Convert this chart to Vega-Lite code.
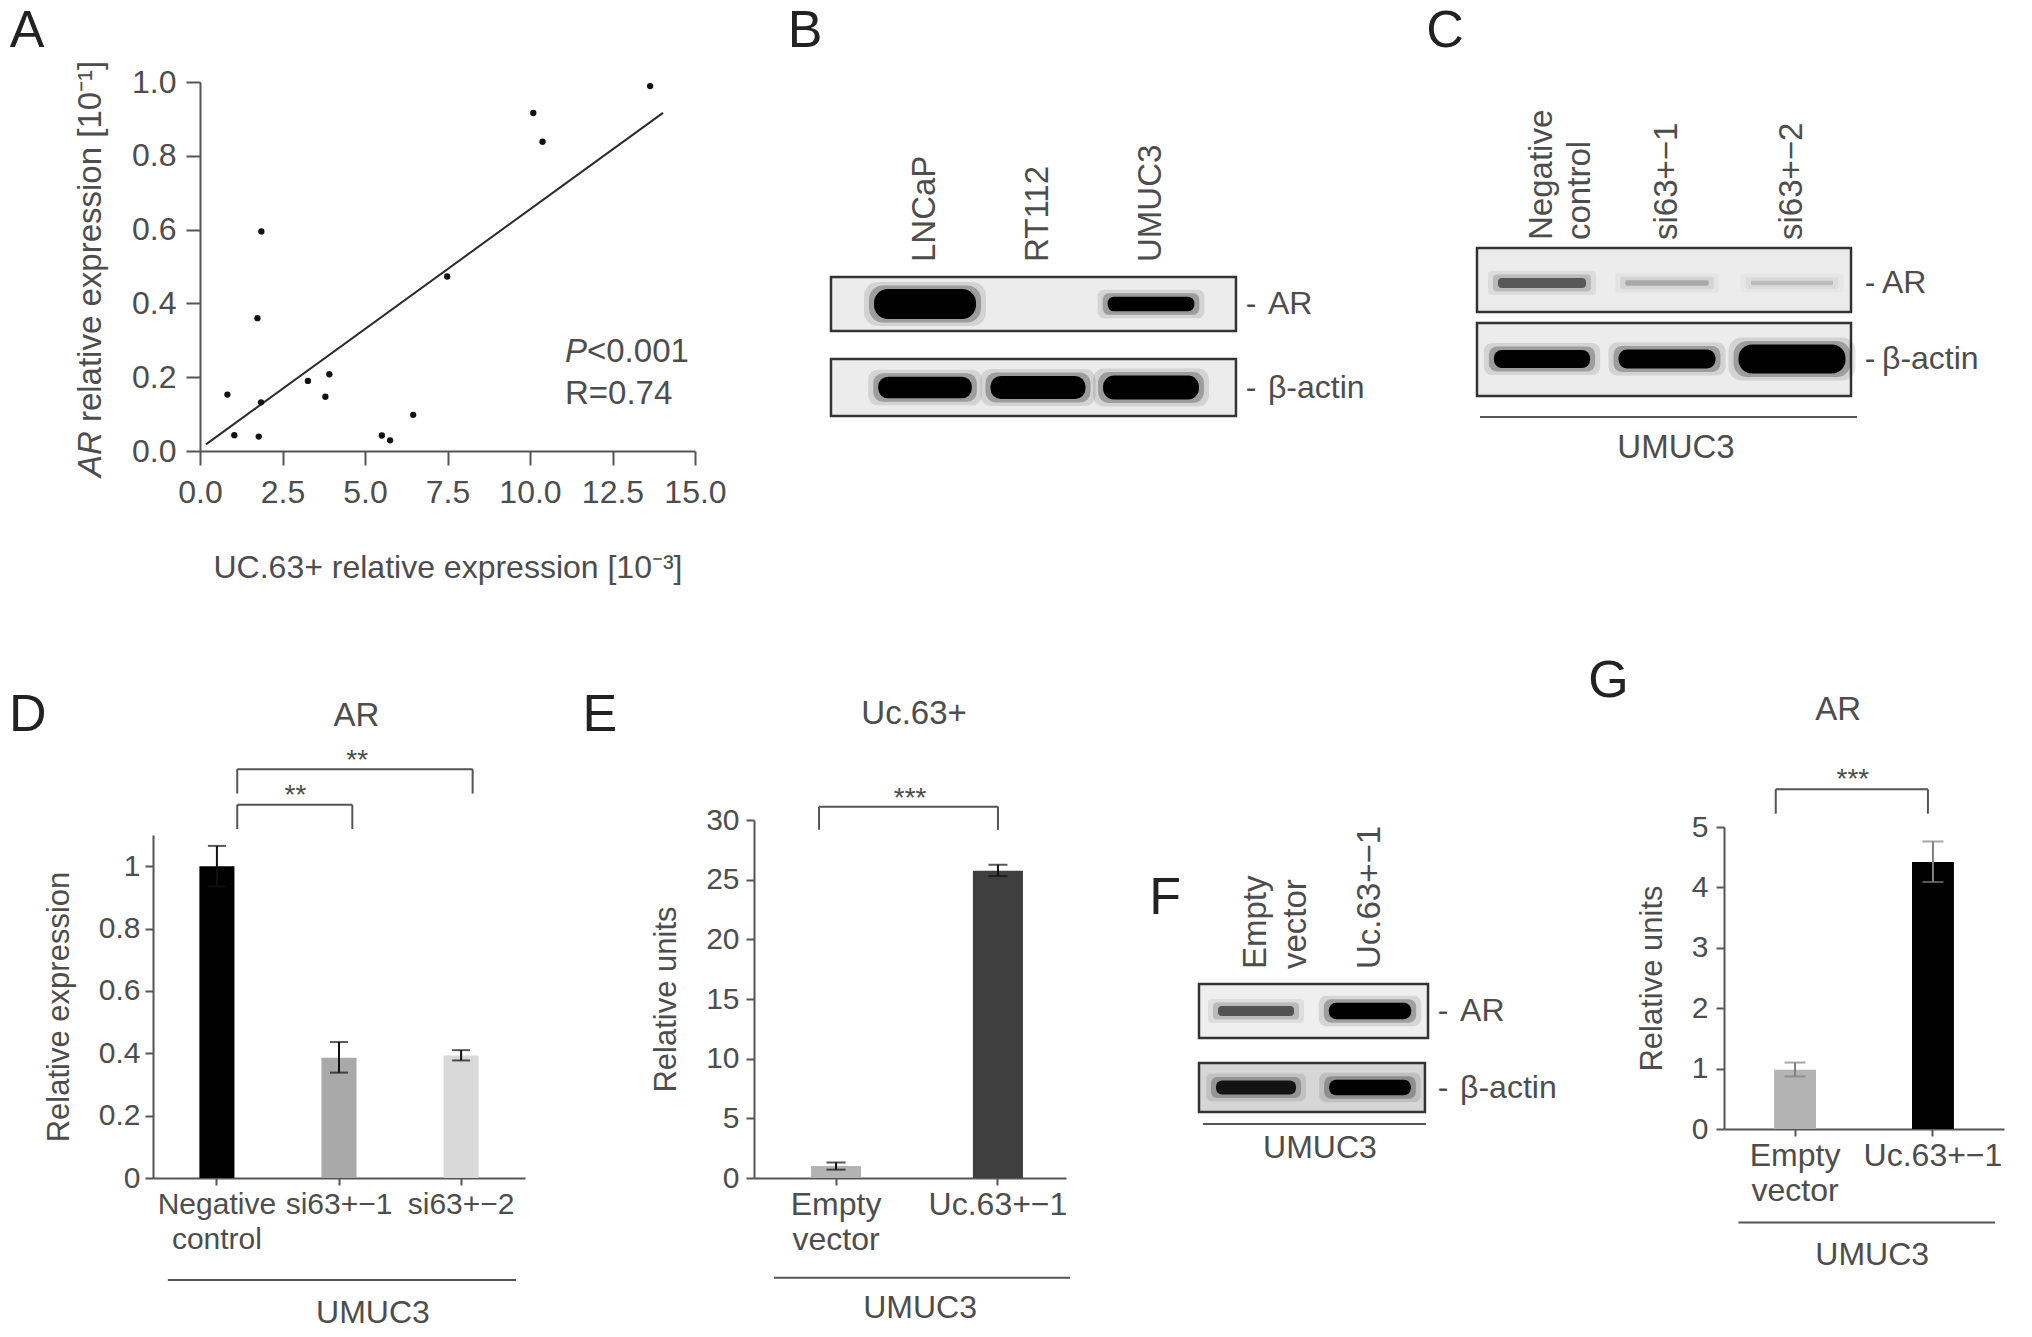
{
"$schema": "https://vega.github.io/schema/vega-lite/v6.json",
"width": 2032,
"height": 1337,
"autosize": {"type": "none"},
"padding": 0,
"background": "#ffffff",
"config": {
  "view": {"stroke": null},
  "font": "Liberation Sans",
  "axis": {"domainColor": "#555555", "domainWidth": 2, "tickColor": "#555555", "tickWidth": 2, "labelColor": "#4d4d4d", "titleColor": "#4d4d4d", "labelFont": "Liberation Sans", "titleFont": "Liberation Sans", "labelFontSize": 32, "titleFontSize": 32, "titleFontWeight": "normal", "grid": false, "labelOverlap": false, "labelFlush": false, "labelBound": false},
  "text": {"font": "Liberation Sans", "fontSize": 32, "color": "#4d4d4d"}
},
"datasets": {
  "one": [{"k": 1}],
  "scatter": [
    {"uc63": 0.83, "ar": 0.153}, {"uc63": 1.04, "ar": 0.043}, {"uc63": 1.78, "ar": 0.039}, {"uc63": 1.85, "ar": 0.132},
    {"uc63": 1.74, "ar": 0.36}, {"uc63": 1.86, "ar": 0.595}, {"uc63": 3.27, "ar": 0.19}, {"uc63": 3.80, "ar": 0.147},
    {"uc63": 3.92, "ar": 0.208}, {"uc63": 5.51, "ar": 0.042}, {"uc63": 5.76, "ar": 0.029}, {"uc63": 6.46, "ar": 0.098},
    {"uc63": 7.49, "ar": 0.473}, {"uc63": 10.10, "ar": 0.916}, {"uc63": 10.38, "ar": 0.838}, {"uc63": 13.64, "ar": 0.989}
  ],
  "rows": [{"row": 1, "protein": "AR"}, {"row": 2, "protein": "β-actin"}],
  "blotB": [
    {"lane": 1, "sample": "LNCaP", "row": 1, "protein": "AR", "signal": 1.0},
    {"lane": 2, "sample": "RT112", "row": 1, "protein": "AR", "signal": 0.0},
    {"lane": 3, "sample": "UMUC3", "row": 1, "protein": "AR", "signal": 0.45},
    {"lane": 1, "sample": "LNCaP", "row": 2, "protein": "β-actin", "signal": 0.7},
    {"lane": 2, "sample": "RT112", "row": 2, "protein": "β-actin", "signal": 0.75},
    {"lane": 3, "sample": "UMUC3", "row": 2, "protein": "β-actin", "signal": 0.78}
  ],
  "lanesB": [{"lane": 1, "sample": "LNCaP"}, {"lane": 2, "sample": "RT112"}, {"lane": 3, "sample": "UMUC3"}],
  "blotC": [
    {"lane": 1, "sample": "Negative control", "row": 1, "protein": "AR", "signal": 0.3},
    {"lane": 2, "sample": "si63+−1", "row": 1, "protein": "AR", "signal": 0.13},
    {"lane": 3, "sample": "si63+−2", "row": 1, "protein": "AR", "signal": 0.09},
    {"lane": 1, "sample": "Negative control", "row": 2, "protein": "β-actin", "signal": 0.6},
    {"lane": 2, "sample": "si63+−1", "row": 2, "protein": "β-actin", "signal": 0.63},
    {"lane": 3, "sample": "si63+−2", "row": 2, "protein": "β-actin", "signal": 1.0}
  ],
  "lanesC": [{"lane": 1, "sample": "Negative control"}, {"lane": 2, "sample": "si63+−1"}, {"lane": 3, "sample": "si63+−2"}],
  "blotF": [
    {"lane": 1, "sample": "Empty vector", "row": 1, "protein": "AR", "signal": 0.5},
    {"lane": 2, "sample": "Uc.63+−1", "row": 1, "protein": "AR", "signal": 0.9},
    {"lane": 1, "sample": "Empty vector", "row": 2, "protein": "β-actin", "signal": 0.75},
    {"lane": 2, "sample": "Uc.63+−1", "row": 2, "protein": "β-actin", "signal": 0.85}
  ],
  "lanesF": [{"lane": 1, "sample": "Empty vector"}, {"lane": 2, "sample": "Uc.63+−1"}],
  "barD": [
    {"group": "Negative control", "mean": 1.0, "lower": 0.935, "upper": 1.065},
    {"group": "si63+−1", "mean": 0.386, "lower": 0.338, "upper": 0.436},
    {"group": "si63+−2", "mean": 0.393, "lower": 0.377, "upper": 0.41}
  ],
  "barE": [
    {"group": "Empty vector", "mean": 1.0, "lower": 0.7, "upper": 1.3},
    {"group": "Uc.63+−1", "mean": 25.75, "lower": 25.3, "upper": 26.25}
  ],
  "barG": [
    {"group": "Empty vector", "mean": 0.98, "lower": 0.87, "upper": 1.1},
    {"group": "Uc.63+−1", "mean": 4.42, "lower": 4.09, "upper": 4.76}
  ]
},
"layer": [
  {
    "layer": [
      {"data": {"name": "scatter"},
       "transform": [{"regression": "ar", "on": "uc63", "extent": [0.18, 14.03]}],
       "mark": {"type": "line", "color": "#2b2b2b", "strokeWidth": 2},
       "encoding": {
         "x": {"field": "uc63", "type": "quantitative", "scale": {"domain": [0, 15], "range": [200, 695], "nice": false, "zero": false},
               "axis": {"orient": "bottom", "offset": -886, "values": [0, 2.5, 5, 7.5, 10, 12.5, 15], "format": ".1f", "tickSize": 14, "labelPadding": 12, "title": "UC.63+ relative expression [10⁻³]", "titlePadding": 44}},
         "y": {"field": "ar", "type": "quantitative", "scale": {"domain": [0, 1], "range": [451, 82], "nice": false, "zero": false},
               "axis": {"orient": "left", "offset": -200, "values": [0, 0.2, 0.4, 0.6, 0.8, 1], "format": ".1f", "tickSize": 14, "labelPadding": 10, "title": null}}
       }},
      {"data": {"name": "scatter"},
       "mark": {"type": "point", "filled": true, "size": 40, "color": "#111111", "opacity": 1},
       "encoding": {"x": {"field": "uc63", "type": "quantitative"}, "y": {"field": "ar", "type": "quantitative"}}},
      {"data": {"name": "one"},
       "mark": {"type": "text", "text": "A", "fontSize": 52, "color": "#222222", "align": "center", "baseline": "middle"},
       "encoding": {"x": {"datum": -5.24, "type": "quantitative"}, "y": {"datum": 1.138, "type": "quantitative"}}},
      {"data": {"name": "one"},
       "mark": {"type": "text", "text": "AR", "fontStyle": "italic", "angle": 270, "align": "right", "baseline": "middle", "fontSize": 33},
       "encoding": {"x": {"datum": -3.3, "type": "quantitative"}, "y": {"datum": 0.054, "type": "quantitative"}}},
      {"data": {"name": "one"},
       "mark": {"type": "text", "text": "relative expression [10⁻¹]", "angle": 270, "align": "left", "baseline": "middle", "fontSize": 33, "dx": 9},
       "encoding": {"x": {"datum": -3.3, "type": "quantitative"}, "y": {"datum": 0.054, "type": "quantitative"}}},
      {"data": {"name": "one"},
       "mark": {"type": "text", "text": "P", "fontStyle": "italic", "align": "left", "baseline": "middle", "fontSize": 33},
       "encoding": {"x": {"datum": 11.06, "type": "quantitative"}, "y": {"datum": 0.268, "type": "quantitative"}}},
      {"data": {"name": "one"},
       "mark": {"type": "text", "text": "<0.001", "align": "left", "baseline": "middle", "fontSize": 33, "dx": 22},
       "encoding": {"x": {"datum": 11.06, "type": "quantitative"}, "y": {"datum": 0.268, "type": "quantitative"}}},
      {"data": {"name": "one"},
       "mark": {"type": "text", "text": "R=0.74", "align": "left", "baseline": "middle", "fontSize": 33},
       "encoding": {"x": {"datum": 11.06, "type": "quantitative"}, "y": {"datum": 0.154, "type": "quantitative"}}}
    ]
  },
  {
    "layer": [
      {"data": {"name": "one"}, "mark": {"type": "rect", "fill": "#ececec", "stroke": "#333333", "strokeWidth": 2.5},
       "encoding": {"x": {"datum": 0.168, "type": "quantitative", "axis": null}, "x2": {"datum": 3.752}, "y": {"datum": 0.677, "type": "quantitative", "axis": null}, "y2": {"datum": 1.323}}},
      {"data": {"name": "one"}, "mark": {"type": "rect", "fill": "#ececec", "stroke": "#333333", "strokeWidth": 2.5},
       "encoding": {"x": {"datum": 0.168, "type": "quantitative", "axis": null}, "x2": {"datum": 3.752}, "y": {"datum": 1.659, "type": "quantitative", "axis": null}, "y2": {"datum": 2.341}}},
      {"data": {"name": "blotB"}, "mark": {"type": "tick", "orient": "horizontal", "size": 94, "thickness": 16, "opacity": 0.1, "strokeJoin": "round"},
       "encoding": {
         "x": {"field": "lane", "type": "quantitative", "scale": {"domain": [1, 3], "range": [925, 1151], "nice": false, "zero": false}, "axis": null},
         "y": {"field": "row", "type": "quantitative", "scale": {"domain": [1, 2], "range": [304, 387.5], "nice": false, "zero": false}, "axis": null},
         "fill": {"field": "signal", "type": "quantitative", "scale": {"domain": [0, 0.4], "range": ["#ebebeb", "#000000"], "clamp": true}, "legend": null},
         "stroke": {"field": "signal", "type": "quantitative", "scale": {"domain": [0, 0.4], "range": ["#ebebeb", "#000000"], "clamp": true}, "legend": null},
         "strokeWidth": {"field": "signal", "type": "quantitative", "scale": {"domain": [0, 1], "range": [0, 28]}, "legend": null}}},
      {"data": {"name": "blotB"}, "mark": {"type": "tick", "orient": "horizontal", "size": 84, "thickness": 9, "opacity": 0.25, "strokeJoin": "round"},
       "encoding": {
         "x": {"field": "lane", "type": "quantitative", "axis": null}, "y": {"field": "row", "type": "quantitative", "axis": null},
         "fill": {"field": "signal", "type": "quantitative", "legend": null}, "stroke": {"field": "signal", "type": "quantitative", "legend": null},
         "strokeWidth": {"field": "signal", "type": "quantitative", "legend": null}}},
      {"data": {"name": "blotB"}, "mark": {"type": "tick", "orient": "horizontal", "size": 74, "thickness": 2, "opacity": 1, "strokeJoin": "round"},
       "encoding": {
         "x": {"field": "lane", "type": "quantitative", "axis": null}, "y": {"field": "row", "type": "quantitative", "axis": null},
         "fill": {"field": "signal", "type": "quantitative", "legend": null}, "stroke": {"field": "signal", "type": "quantitative", "legend": null},
         "strokeWidth": {"field": "signal", "type": "quantitative", "legend": null}}},
      {"data": {"name": "lanesB"}, "mark": {"type": "text", "angle": 270, "align": "left", "baseline": "middle", "fontSize": 33},
       "encoding": {"x": {"field": "lane", "type": "quantitative", "axis": null}, "y": {"datum": 0.497, "type": "quantitative", "axis": null}, "text": {"field": "sample"}}},
      {"data": {"name": "rows"}, "mark": {"type": "text", "text": "-", "align": "center", "baseline": "middle", "fontSize": 32},
       "encoding": {"x": {"datum": 3.885, "type": "quantitative", "axis": null}, "y": {"field": "row", "type": "quantitative", "axis": null}}},
      {"data": {"name": "rows"}, "mark": {"type": "text", "align": "left", "baseline": "middle", "fontSize": 32},
       "encoding": {"x": {"datum": 4.035, "type": "quantitative", "axis": null}, "y": {"field": "row", "type": "quantitative", "axis": null}, "text": {"field": "protein"}}},
      {"data": {"name": "one"}, "mark": {"type": "text", "text": "B", "fontSize": 52, "color": "#222222", "align": "center", "baseline": "middle"},
       "encoding": {"x": {"datum": -0.062, "type": "quantitative", "axis": null}, "y": {"datum": -2.27, "type": "quantitative", "axis": null}}}
    ]
  },
  {
    "layer": [
      {"data": {"name": "one"}, "mark": {"type": "rect", "fill": "#ececec", "stroke": "#333333", "strokeWidth": 2.5},
       "encoding": {"x": {"datum": 0.48, "type": "quantitative", "axis": null}, "x2": {"datum": 3.472}, "y": {"datum": 0.539, "type": "quantitative", "axis": null}, "y2": {"datum": 1.382}}},
      {"data": {"name": "one"}, "mark": {"type": "rect", "fill": "#ececec", "stroke": "#333333", "strokeWidth": 2.5},
       "encoding": {"x": {"datum": 0.48, "type": "quantitative", "axis": null}, "x2": {"datum": 3.472}, "y": {"datum": 1.526, "type": "quantitative", "axis": null}, "y2": {"datum": 2.487}}},
      {"data": {"name": "blotC"}, "mark": {"type": "tick", "orient": "horizontal", "size": 100, "thickness": 16, "opacity": 0.1, "strokeJoin": "round"},
       "encoding": {
         "x": {"field": "lane", "type": "quantitative", "scale": {"domain": [1, 3], "range": [1542, 1792], "nice": false, "zero": false}, "axis": null},
         "y": {"field": "row", "type": "quantitative", "scale": {"domain": [1, 2], "range": [283, 359], "nice": false, "zero": false}, "axis": null},
         "fill": {"field": "signal", "type": "quantitative", "scale": {"domain": [0, 0.5], "range": ["#ebebeb", "#000000"], "clamp": true}, "legend": null},
         "stroke": {"field": "signal", "type": "quantitative", "scale": {"domain": [0, 0.5], "range": ["#ebebeb", "#000000"], "clamp": true}, "legend": null},
         "strokeWidth": {"field": "signal", "type": "quantitative", "scale": {"domain": [0, 1], "range": [0, 27]}, "legend": null}}},
      {"data": {"name": "blotC"}, "mark": {"type": "tick", "orient": "horizontal", "size": 90, "thickness": 9, "opacity": 0.25, "strokeJoin": "round"},
       "encoding": {
         "x": {"field": "lane", "type": "quantitative", "axis": null}, "y": {"field": "row", "type": "quantitative", "axis": null},
         "fill": {"field": "signal", "type": "quantitative", "legend": null}, "stroke": {"field": "signal", "type": "quantitative", "legend": null},
         "strokeWidth": {"field": "signal", "type": "quantitative", "legend": null}}},
      {"data": {"name": "blotC"}, "mark": {"type": "tick", "orient": "horizontal", "size": 80, "thickness": 2, "opacity": 1, "strokeJoin": "round"},
       "encoding": {
         "x": {"field": "lane", "type": "quantitative", "axis": null}, "y": {"field": "row", "type": "quantitative", "axis": null},
         "fill": {"field": "signal", "type": "quantitative", "legend": null}, "stroke": {"field": "signal", "type": "quantitative", "legend": null},
         "strokeWidth": {"field": "signal", "type": "quantitative", "legend": null}}},
      {"data": {"name": "lanesC"}, "mark": {"type": "text", "angle": 270, "align": "left", "baseline": "middle", "fontSize": 33, "lineBreak": " ", "lineHeight": 38},
       "encoding": {"x": {"field": "lane", "type": "quantitative", "axis": null}, "y": {"datum": 0.434, "type": "quantitative", "axis": null}, "text": {"field": "sample"}}},
      {"data": {"name": "rows"}, "mark": {"type": "text", "text": "-", "align": "center", "baseline": "middle", "fontSize": 32},
       "encoding": {"x": {"datum": 3.624, "type": "quantitative", "axis": null}, "y": {"field": "row", "type": "quantitative", "axis": null}}},
      {"data": {"name": "rows"}, "mark": {"type": "text", "align": "left", "baseline": "middle", "fontSize": 32},
       "encoding": {"x": {"datum": 3.72, "type": "quantitative", "axis": null}, "y": {"field": "row", "type": "quantitative", "axis": null}, "text": {"field": "protein"}}},
      {"data": {"name": "one"}, "mark": {"type": "rule", "color": "#555555", "strokeWidth": 2},
       "encoding": {"x": {"datum": 0.504, "type": "quantitative", "axis": null}, "x2": {"datum": 3.52}, "y": {"datum": 2.763, "type": "quantitative", "axis": null}}},
      {"data": {"name": "one"}, "mark": {"type": "text", "text": "UMUC3", "align": "center", "baseline": "middle", "fontSize": 33},
       "encoding": {"x": {"datum": 2.072, "type": "quantitative", "axis": null}, "y": {"datum": 3.171, "type": "quantitative", "axis": null}}},
      {"data": {"name": "one"}, "mark": {"type": "text", "text": "C", "fontSize": 52, "color": "#222222", "align": "center", "baseline": "middle"},
       "encoding": {"x": {"datum": 0.224, "type": "quantitative", "axis": null}, "y": {"datum": -2.316, "type": "quantitative", "axis": null}}}
    ]
  },
  {
    "layer": [
      {"data": {"name": "barD"}, "mark": {"type": "bar"},
       "encoding": {
         "x": {"field": "group", "type": "nominal", "sort": null, "scale": {"type": "band", "range": [153, 525], "paddingInner": 0.713, "paddingOuter": 0.38},
               "axis": {"orient": "bottom", "offset": -159, "labelAngle": 0, "labelExpr": "split(datum.label, ' ')", "tickSize": 7, "labelPadding": 4, "labelLineHeight": 35, "labelBaseline": "top", "title": null, "bandPosition": 0.5, "labelFontSize": 30}},
         "y": {"field": "mean", "type": "quantitative", "scale": {"domain": [0, 1.1], "range": [1178, 835], "nice": false, "zero": true},
               "axis": {"orient": "left", "offset": -153, "values": [0, 0.2, 0.4, 0.6, 0.8, 1], "format": "~g", "tickSize": 8, "labelPadding": 5, "title": "Relative expression", "titlePadding": 23, "labelFontSize": 30, "titleFontSize": 31}},
         "fill": {"field": "group", "type": "nominal", "sort": null, "scale": {"range": ["#000000", "#a9a9a9", "#d9d9d9"]}, "legend": null}}},
      {"data": {"name": "barD"}, "mark": {"type": "rule", "color": "#111111", "strokeWidth": 2},
       "encoding": {"x": {"field": "group", "type": "nominal", "sort": null}, "y": {"field": "lower", "type": "quantitative"}, "y2": {"field": "upper"}}},
      {"data": {"name": "barD"}, "mark": {"type": "tick", "orient": "horizontal", "color": "#111111", "size": 18, "thickness": 2},
       "encoding": {"x": {"field": "group", "type": "nominal", "sort": null}, "y": {"field": "upper", "type": "quantitative"}}},
      {"data": {"name": "barD"}, "mark": {"type": "tick", "orient": "horizontal", "color": "#111111", "size": 18, "thickness": 2},
       "encoding": {"x": {"field": "group", "type": "nominal", "sort": null}, "y": {"field": "lower", "type": "quantitative"}}},
      {"data": {"name": "one"}, "mark": {"type": "rule", "color": "#555555", "strokeWidth": 2},
       "encoding": {"x": {"datum": "Negative control", "type": "nominal", "bandPosition": 1.08}, "x2": {"datum": "si63+−2", "bandPosition": 0.83}, "y": {"datum": 1.311, "type": "quantitative"}}},
      {"data": {"name": "one"}, "mark": {"type": "rule", "color": "#555555", "strokeWidth": 2},
       "encoding": {"x": {"datum": "Negative control", "type": "nominal", "bandPosition": 1.08}, "y": {"datum": 1.311, "type": "quantitative"}, "y2": {"datum": 1.233}}},
      {"data": {"name": "one"}, "mark": {"type": "rule", "color": "#555555", "strokeWidth": 2},
       "encoding": {"x": {"datum": "si63+−2", "type": "nominal", "bandPosition": 0.83}, "y": {"datum": 1.311, "type": "quantitative"}, "y2": {"datum": 1.233}}},
      {"data": {"name": "one"}, "mark": {"type": "rule", "color": "#555555", "strokeWidth": 2},
       "encoding": {"x": {"datum": "Negative control", "type": "nominal", "bandPosition": 1.08}, "x2": {"datum": "si63+−1", "bandPosition": 0.88}, "y": {"datum": 1.197, "type": "quantitative"}}},
      {"data": {"name": "one"}, "mark": {"type": "rule", "color": "#555555", "strokeWidth": 2},
       "encoding": {"x": {"datum": "Negative control", "type": "nominal", "bandPosition": 1.08}, "y": {"datum": 1.197, "type": "quantitative"}, "y2": {"datum": 1.119}}},
      {"data": {"name": "one"}, "mark": {"type": "rule", "color": "#555555", "strokeWidth": 2},
       "encoding": {"x": {"datum": "si63+−1", "type": "nominal", "bandPosition": 0.88}, "y": {"datum": 1.197, "type": "quantitative"}, "y2": {"datum": 1.119}}},
      {"data": {"name": "one"}, "mark": {"type": "text", "text": "**", "align": "center", "baseline": "middle", "fontSize": 28},
       "encoding": {"x": {"datum": "si63+−1", "type": "nominal", "bandPosition": 1.02}, "y": {"datum": 1.337, "type": "quantitative"}}},
      {"data": {"name": "one"}, "mark": {"type": "text", "text": "**", "align": "center", "baseline": "middle", "fontSize": 28},
       "encoding": {"x": {"datum": "Negative control", "type": "nominal", "bandPosition": 2.74}, "y": {"datum": 1.224, "type": "quantitative"}}},
      {"data": {"name": "one"}, "mark": {"type": "text", "text": "AR", "align": "center", "baseline": "middle", "fontSize": 33},
       "encoding": {"x": {"datum": "si63+−1", "type": "nominal", "bandPosition": 1.0}, "y": {"datum": 1.483, "type": "quantitative"}}},
      {"data": {"name": "one"}, "mark": {"type": "text", "text": "D", "fontSize": 52, "color": "#222222", "align": "center", "baseline": "middle"},
       "encoding": {"x": {"datum": "Negative control", "type": "nominal", "bandPosition": -4.9}, "y": {"datum": 1.484, "type": "quantitative"}}},
      {"data": {"name": "one"}, "mark": {"type": "rule", "color": "#555555", "strokeWidth": 2},
       "encoding": {"x": {"datum": "Negative control", "type": "nominal", "bandPosition": -0.9}, "x2": {"datum": "si63+−2", "bandPosition": 2.07}, "y": {"datum": -0.327, "type": "quantitative"}}},
      {"data": {"name": "one"}, "mark": {"type": "text", "text": "UMUC3", "align": "center", "baseline": "middle", "fontSize": 32},
       "encoding": {"x": {"datum": "si63+−1", "type": "nominal", "bandPosition": 1.47}, "y": {"datum": -0.433, "type": "quantitative"}}}
    ]
  },
  {
    "layer": [
      {"data": {"name": "barE"}, "mark": {"type": "bar"},
       "encoding": {
         "x": {"field": "group", "type": "nominal", "sort": null, "scale": {"type": "band", "range": [754, 1066], "paddingInner": 0.691, "paddingOuter": 0.309, "align": 0.57},
               "axis": {"orient": "bottom", "offset": -159, "labelAngle": 0, "labelExpr": "split(datum.label, ' ')", "tickSize": 7, "labelPadding": 4, "labelLineHeight": 35, "labelBaseline": "top", "title": null, "bandPosition": 0.5, "labelFontSize": 32}},
         "y": {"field": "mean", "type": "quantitative", "scale": {"domain": [0, 30], "range": [1178, 820], "nice": false, "zero": true},
               "axis": {"orient": "left", "offset": -754, "values": [0, 5, 10, 15, 20, 25, 30], "format": "~g", "tickSize": 8, "labelPadding": 7, "title": "Relative units", "titlePadding": 23, "labelFontSize": 30, "titleFontSize": 31}},
         "fill": {"field": "group", "type": "nominal", "sort": null, "scale": {"range": ["#b3b3b3", "#3f3f3f"]}, "legend": null}}},
      {"data": {"name": "barE"}, "mark": {"type": "rule", "color": "#111111", "strokeWidth": 2},
       "encoding": {"x": {"field": "group", "type": "nominal", "sort": null}, "y": {"field": "lower", "type": "quantitative"}, "y2": {"field": "upper"}}},
      {"data": {"name": "barE"}, "mark": {"type": "tick", "orient": "horizontal", "color": "#111111", "size": 19, "thickness": 2},
       "encoding": {"x": {"field": "group", "type": "nominal", "sort": null}, "y": {"field": "upper", "type": "quantitative"}}},
      {"data": {"name": "barE"}, "mark": {"type": "tick", "orient": "horizontal", "color": "#111111", "size": 19, "thickness": 2},
       "encoding": {"x": {"field": "group", "type": "nominal", "sort": null}, "y": {"field": "lower", "type": "quantitative"}}},
      {"data": {"name": "one"}, "mark": {"type": "rule", "color": "#555555", "strokeWidth": 2},
       "encoding": {"x": {"datum": "Empty vector", "type": "nominal", "bandPosition": 0.16}, "x2": {"datum": "Uc.63+−1", "bandPosition": 0.5}, "y": {"datum": 31.12, "type": "quantitative"}}},
      {"data": {"name": "one"}, "mark": {"type": "rule", "color": "#555555", "strokeWidth": 2},
       "encoding": {"x": {"datum": "Empty vector", "type": "nominal", "bandPosition": 0.16}, "y": {"datum": 31.12, "type": "quantitative"}, "y2": {"datum": 29.18}}},
      {"data": {"name": "one"}, "mark": {"type": "rule", "color": "#555555", "strokeWidth": 2},
       "encoding": {"x": {"datum": "Uc.63+−1", "type": "nominal", "bandPosition": 0.5}, "y": {"datum": 31.12, "type": "quantitative"}, "y2": {"datum": 29.18}}},
      {"data": {"name": "one"}, "mark": {"type": "text", "text": "***", "align": "center", "baseline": "middle", "fontSize": 28},
       "encoding": {"x": {"datum": "Empty vector", "type": "nominal", "bandPosition": 1.98}, "y": {"datum": 31.74, "type": "quantitative"}}},
      {"data": {"name": "one"}, "mark": {"type": "text", "text": "Uc.63+", "align": "center", "baseline": "middle", "fontSize": 33},
       "encoding": {"x": {"datum": "Empty vector", "type": "nominal", "bandPosition": 2.06}, "y": {"datum": 38.87, "type": "quantitative"}}},
      {"data": {"name": "one"}, "mark": {"type": "text", "text": "E", "fontSize": 52, "color": "#222222", "align": "center", "baseline": "middle"},
       "encoding": {"x": {"datum": "Empty vector", "type": "nominal", "bandPosition": -4.22}, "y": {"datum": 38.81, "type": "quantitative"}}},
      {"data": {"name": "one"}, "mark": {"type": "rule", "color": "#555555", "strokeWidth": 2},
       "encoding": {"x": {"datum": "Empty vector", "type": "nominal", "bandPosition": -0.74}, "x2": {"datum": "Uc.63+−1", "bandPosition": 1.94}, "y": {"datum": -8.35, "type": "quantitative"}}},
      {"data": {"name": "one"}, "mark": {"type": "text", "text": "UMUC3", "align": "center", "baseline": "middle", "fontSize": 32},
       "encoding": {"x": {"datum": "Empty vector", "type": "nominal", "bandPosition": 2.18}, "y": {"datum": -10.88, "type": "quantitative"}}}
    ]
  },
  {
    "layer": [
      {"data": {"name": "one"}, "mark": {"type": "rect", "fill": "#efefef", "stroke": "#333333", "strokeWidth": 2.5},
       "encoding": {"x": {"datum": 0.5, "type": "quantitative", "axis": null}, "x2": {"datum": 2.509}, "y": {"datum": 0.647, "type": "quantitative", "axis": null}, "y2": {"datum": 1.353}}},
      {"data": {"name": "one"}, "mark": {"type": "rect", "fill": "#d6d6d6", "stroke": "#333333", "strokeWidth": 2.5},
       "encoding": {"x": {"datum": 0.5, "type": "quantitative", "axis": null}, "x2": {"datum": 2.482}, "y": {"datum": 1.68, "type": "quantitative", "axis": null}, "y2": {"datum": 2.32}}},
      {"data": {"name": "blotF"}, "mark": {"type": "tick", "orient": "horizontal", "size": 88, "thickness": 16, "opacity": 0.1, "strokeJoin": "round"},
       "encoding": {
         "x": {"field": "lane", "type": "quantitative", "scale": {"domain": [1, 2], "range": [1256, 1370], "nice": false, "zero": false}, "axis": null},
         "y": {"field": "row", "type": "quantitative", "scale": {"domain": [1, 2], "range": [1011, 1087.5], "nice": false, "zero": false}, "axis": null},
         "fill": {"field": "signal", "type": "quantitative", "scale": {"domain": [0, 0.8], "range": ["#ebebeb", "#000000"], "clamp": true}, "legend": null},
         "stroke": {"field": "signal", "type": "quantitative", "scale": {"domain": [0, 0.8], "range": ["#ebebeb", "#000000"], "clamp": true}, "legend": null},
         "strokeWidth": {"field": "signal", "type": "quantitative", "scale": {"domain": [0, 1], "range": [0, 16]}, "legend": null}}},
      {"data": {"name": "blotF"}, "mark": {"type": "tick", "orient": "horizontal", "size": 78, "thickness": 9, "opacity": 0.25, "strokeJoin": "round"},
       "encoding": {
         "x": {"field": "lane", "type": "quantitative", "axis": null}, "y": {"field": "row", "type": "quantitative", "axis": null},
         "fill": {"field": "signal", "type": "quantitative", "legend": null}, "stroke": {"field": "signal", "type": "quantitative", "legend": null},
         "strokeWidth": {"field": "signal", "type": "quantitative", "legend": null}}},
      {"data": {"name": "blotF"}, "mark": {"type": "tick", "orient": "horizontal", "size": 68, "thickness": 2, "opacity": 1, "strokeJoin": "round"},
       "encoding": {
         "x": {"field": "lane", "type": "quantitative", "axis": null}, "y": {"field": "row", "type": "quantitative", "axis": null},
         "fill": {"field": "signal", "type": "quantitative", "legend": null}, "stroke": {"field": "signal", "type": "quantitative", "legend": null},
         "strokeWidth": {"field": "signal", "type": "quantitative", "legend": null}}},
      {"data": {"name": "lanesF"}, "mark": {"type": "text", "angle": 270, "align": "left", "baseline": "middle", "fontSize": 33, "lineBreak": " ", "lineHeight": 40},
       "encoding": {"x": {"field": "lane", "type": "quantitative", "axis": null}, "y": {"datum": 0.451, "type": "quantitative", "axis": null}, "text": {"field": "sample"}}},
      {"data": {"name": "rows"}, "mark": {"type": "text", "text": "-", "align": "center", "baseline": "middle", "fontSize": 32},
       "encoding": {"x": {"datum": 2.64, "type": "quantitative", "axis": null}, "y": {"field": "row", "type": "quantitative", "axis": null}}},
      {"data": {"name": "rows"}, "mark": {"type": "text", "align": "left", "baseline": "middle", "fontSize": 32},
       "encoding": {"x": {"datum": 2.79, "type": "quantitative", "axis": null}, "y": {"field": "row", "type": "quantitative", "axis": null}, "text": {"field": "protein"}}},
      {"data": {"name": "one"}, "mark": {"type": "rule", "color": "#555555", "strokeWidth": 2},
       "encoding": {"x": {"datum": 0.535, "type": "quantitative", "axis": null}, "x2": {"datum": 2.491}, "y": {"datum": 2.477, "type": "quantitative", "axis": null}}},
      {"data": {"name": "one"}, "mark": {"type": "text", "text": "UMUC3", "align": "center", "baseline": "middle", "fontSize": 32},
       "encoding": {"x": {"datum": 1.561, "type": "quantitative", "axis": null}, "y": {"datum": 2.79, "type": "quantitative", "axis": null}}},
      {"data": {"name": "one"}, "mark": {"type": "text", "text": "F", "fontSize": 52, "color": "#222222", "align": "center", "baseline": "middle"},
       "encoding": {"x": {"datum": 0.202, "type": "quantitative", "axis": null}, "y": {"datum": -0.477, "type": "quantitative", "axis": null}}}
    ]
  },
  {
    "layer": [
      {"data": {"name": "barG"}, "mark": {"type": "bar"},
       "encoding": {
         "x": {"field": "group", "type": "nominal", "sort": null, "scale": {"type": "band", "range": [1724, 2004], "paddingInner": 0.696, "paddingOuter": 0.363},
               "axis": {"orient": "bottom", "offset": -208, "labelAngle": 0, "labelExpr": "split(datum.label, ' ')", "tickSize": 7, "labelPadding": 4, "labelLineHeight": 35, "labelBaseline": "top", "title": null, "bandPosition": 0.5, "labelFontSize": 32}},
         "y": {"field": "mean", "type": "quantitative", "scale": {"domain": [0, 5], "range": [1129, 827], "nice": false, "zero": true},
               "axis": {"orient": "left", "offset": -1724, "values": [0, 1, 2, 3, 4, 5], "format": "~g", "tickSize": 8, "labelPadding": 8, "title": "Relative units", "titlePadding": 23, "labelFontSize": 30, "titleFontSize": 31}},
         "fill": {"field": "group", "type": "nominal", "sort": null, "scale": {"range": ["#b3b3b3", "#000000"]}, "legend": null}}},
      {"data": {"name": "barG"}, "mark": {"type": "rule", "color": "#808080", "strokeWidth": 2},
       "encoding": {"x": {"field": "group", "type": "nominal", "sort": null}, "y": {"field": "lower", "type": "quantitative"}, "y2": {"field": "upper"}}},
      {"data": {"name": "barG"}, "mark": {"type": "tick", "orient": "horizontal", "color": "#808080", "size": 21, "thickness": 2},
       "encoding": {"x": {"field": "group", "type": "nominal", "sort": null}, "y": {"field": "upper", "type": "quantitative"}}},
      {"data": {"name": "barG"}, "mark": {"type": "tick", "orient": "horizontal", "color": "#808080", "size": 21, "thickness": 2},
       "encoding": {"x": {"field": "group", "type": "nominal", "sort": null}, "y": {"field": "lower", "type": "quantitative"}}},
      {"data": {"name": "one"}, "mark": {"type": "rule", "color": "#555555", "strokeWidth": 2},
       "encoding": {"x": {"datum": "Empty vector", "type": "nominal", "bandPosition": 0.04}, "x2": {"datum": "Uc.63+−1", "bandPosition": 0.38}, "y": {"datum": 5.625, "type": "quantitative"}}},
      {"data": {"name": "one"}, "mark": {"type": "rule", "color": "#555555", "strokeWidth": 2},
       "encoding": {"x": {"datum": "Empty vector", "type": "nominal", "bandPosition": 0.04}, "y": {"datum": 5.625, "type": "quantitative"}, "y2": {"datum": 5.22}}},
      {"data": {"name": "one"}, "mark": {"type": "rule", "color": "#555555", "strokeWidth": 2},
       "encoding": {"x": {"datum": "Uc.63+−1", "type": "nominal", "bandPosition": 0.38}, "y": {"datum": 5.625, "type": "quantitative"}, "y2": {"datum": 5.22}}},
      {"data": {"name": "one"}, "mark": {"type": "text", "text": "***", "align": "center", "baseline": "middle", "fontSize": 28},
       "encoding": {"x": {"datum": "Empty vector", "type": "nominal", "bandPosition": 1.88}, "y": {"datum": 5.77, "type": "quantitative"}}},
      {"data": {"name": "one"}, "mark": {"type": "text", "text": "AR", "align": "center", "baseline": "middle", "fontSize": 33},
       "encoding": {"x": {"datum": "Empty vector", "type": "nominal", "bandPosition": 1.53}, "y": {"datum": 6.93, "type": "quantitative"}}},
      {"data": {"name": "one"}, "mark": {"type": "text", "text": "G", "fontSize": 52, "color": "#222222", "align": "center", "baseline": "middle"},
       "encoding": {"x": {"datum": "Empty vector", "type": "nominal", "bandPosition": -3.95}, "y": {"datum": 7.41, "type": "quantitative"}}},
      {"data": {"name": "one"}, "mark": {"type": "rule", "color": "#555555", "strokeWidth": 2},
       "encoding": {"x": {"datum": "Empty vector", "type": "nominal", "bandPosition": -0.85}, "x2": {"datum": "Uc.63+−1", "bandPosition": 1.98}, "y": {"datum": -1.55, "type": "quantitative"}}},
      {"data": {"name": "one"}, "mark": {"type": "text", "text": "UMUC3", "align": "center", "baseline": "middle", "fontSize": 32},
       "encoding": {"x": {"datum": "Empty vector", "type": "nominal", "bandPosition": 2.34}, "y": {"datum": -2.08, "type": "quantitative"}}}
    ]
  }
],
"resolve": {"scale": {"x": "independent", "y": "independent", "fill": "independent", "stroke": "independent", "strokeWidth": "independent", "color": "independent"}, "axis": {"x": "independent", "y": "independent"}}
}
